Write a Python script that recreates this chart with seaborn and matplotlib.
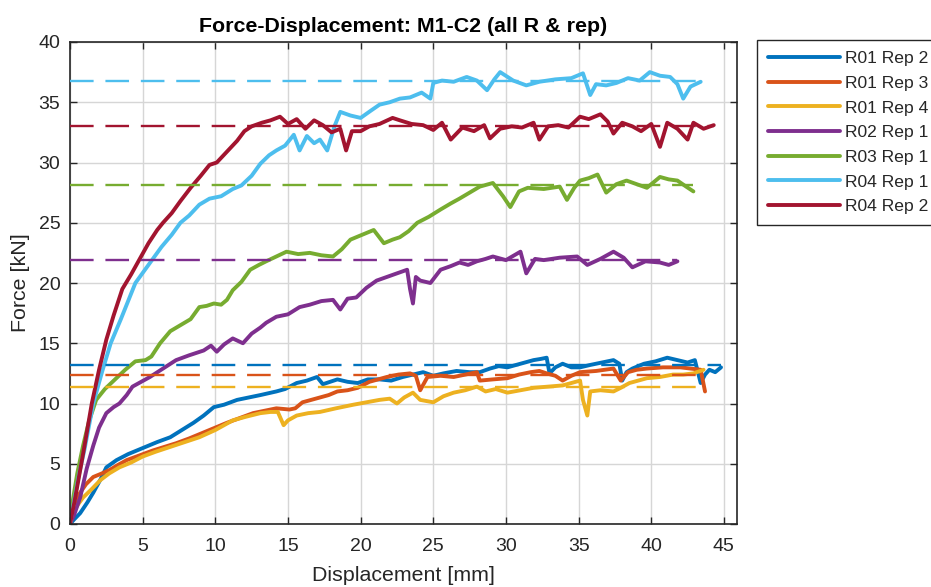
import numpy as np
import pandas as pd
import matplotlib
matplotlib.use("Agg")
import matplotlib.pyplot as plt
import seaborn as sns

# ---------------- data ----------------
names = ["R01 Rep 2", "R01 Rep 3", "R01 Rep 4", "R02 Rep 1", "R03 Rep 1", "R04 Rep 1", "R04 Rep 2"]
colors = ["#0072BD", "#D95319", "#EDB120", "#7E2F8E", "#77AC30", "#4DBEEE", "#A2142F"]

r01_rep2_x = [0, 0.3, 0.7, 1.2, 1.6, 2.1, 2.5, 3.2, 4.0, 5.0, 6.0, 6.9, 7.7, 8.5, 9.2, 9.9, 10.6, 11.5, 12.3, 13.1,
              14.2, 14.8, 15.6, 16.3, 17.0, 17.4, 18.4, 19.1, 19.8, 20.5, 21.3, 22.1, 22.9, 23.6, 24.3, 25.0, 25.7,
              26.6, 27.5, 28.2, 28.9, 29.5, 30.1, 31.0, 31.9, 32.4, 32.8, 33.0, 33.4, 33.9, 34.5, 35.1, 35.8, 36.6,
              37.4, 37.8, 38.0, 38.3, 38.7, 39.5, 40.3, 41.1, 41.8, 42.5, 43.0, 43.4, 43.7, 44.0, 44.4, 44.8]
r01_rep2_y = [0, 0.4, 0.9, 1.8, 2.6, 3.7, 4.7, 5.3, 5.8, 6.3, 6.8, 7.2, 7.8, 8.4, 9.0, 9.7, 9.9, 10.3, 10.5, 10.7,
              11.0, 11.2, 11.7, 11.9, 12.2, 11.6, 12.0, 11.8, 11.7, 12.0, 12.0, 11.9, 12.2, 12.4, 12.6, 12.3, 12.5,
              12.7, 12.6, 12.6, 12.9, 13.1, 13.0, 13.3, 13.6, 13.7, 13.8, 12.5, 13.0, 13.3, 13.0, 13.0, 13.2, 13.4,
              13.6, 13.3, 11.9, 12.6, 12.9, 13.3, 13.5, 13.8, 13.6, 13.4, 13.6, 11.7, 12.4, 12.8, 12.6, 13.0]

r01_rep3_x = [0, 0.2, 0.4, 0.7, 1.1, 1.6, 2.2, 2.75, 3.3, 3.9, 4.8, 5.7, 6.5, 7.3, 8.2, 9.2, 10.0, 10.8, 11.7, 12.6,
              13.4, 14.2, 15.1, 15.5, 16.0, 16.6, 17.2, 17.8, 18.4, 19.1, 19.8, 20.6, 21.2, 21.8, 22.6, 23.4, 23.8,
              24.1, 24.6, 25.5, 26.4, 27.2, 28.0, 28.2, 29.1, 30.1, 30.9, 31.7, 32.3, 32.8, 33.4, 33.9, 34.5, 35.1,
              36.2, 37.4, 37.9, 38.4, 39.0, 39.7, 40.8, 42.0, 42.7, 43.4, 43.7]
r01_rep3_y = [0, 1.2, 2.0, 2.6, 3.3, 3.9, 4.2, 4.5, 4.9, 5.3, 5.7, 6.1, 6.4, 6.7, 7.1, 7.6, 8.0, 8.4, 8.8, 9.2,
              9.4, 9.6, 9.5, 9.6, 10.1, 10.3, 10.5, 10.7, 11.0, 11.1, 11.3, 11.8, 12.0, 12.2, 12.4, 12.5, 12.3,
              11.1, 12.2, 12.3, 12.2, 12.4, 12.6, 11.9, 12.0, 12.1, 12.4, 12.6, 12.7, 12.5, 12.3, 11.9, 12.3, 12.6,
              12.7, 12.9, 11.9, 12.6, 12.8, 12.9, 13.0, 13.0, 12.9, 12.8, 11.0]

r01_rep4_x = [0, 0.3, 0.9, 1.5, 2.1, 2.7, 3.4, 4.2, 5.0, 5.9, 6.9, 7.9, 8.9, 10.0, 11.2, 12.1, 13.1, 13.8, 14.3, 14.7,
              15.0, 15.6, 16.4, 17.2, 18.3, 19.5, 20.4, 21.3, 22.0, 22.5, 23.0, 23.6, 24.1, 25.0, 25.7, 26.4, 27.2,
              28.0, 28.6, 29.3, 30.1, 31.0, 31.9, 32.9, 33.9, 34.5, 35.1, 35.3, 35.6, 35.8, 36.5, 37.4, 37.9, 38.5,
              39.1, 39.7, 40.6, 41.5, 42.2, 42.9, 43.6]
r01_rep4_y = [0, 1.2, 2.2, 2.9, 3.65, 4.2, 4.7, 5.1, 5.6, 6.0, 6.4, 6.8, 7.2, 7.8, 8.6, 8.9, 9.2, 9.3, 9.3, 8.2,
              8.6, 9.0, 9.2, 9.3, 9.6, 9.9, 10.1, 10.3, 10.4, 10.0, 10.5, 10.9, 10.3, 10.1, 10.6, 10.9, 11.1,
              11.4, 11.0, 11.2, 10.9, 11.1, 11.3, 11.4, 11.5, 11.7, 11.9, 10.3, 9.0, 11.0, 11.1, 11.0, 11.3, 11.7,
              11.9, 12.1, 12.2, 12.4, 12.4, 12.5, 12.8]

r02_rep1_x = [0, 0.3, 0.7, 1.15, 1.6, 2.0, 2.5, 3.0, 3.4, 3.9, 4.3, 4.9, 5.5, 6.4, 7.3, 8.2, 9.2, 9.7, 10.1, 10.6,
              11.2, 11.9, 12.5, 13.1, 13.5, 14.2, 15.0, 15.8, 16.5, 17.3, 18.1, 18.6, 19.1, 19.7, 20.4, 21.1, 21.8,
              22.5, 23.2, 23.4, 23.6, 23.8, 24.1, 24.8, 25.5, 26.2, 26.8, 27.4, 28.0, 28.6, 29.1, 30.0, 31.0, 31.4,
              32.0, 32.6, 33.7, 34.9, 35.6, 36.5, 37.4, 38.1, 38.7, 39.6, 40.6, 41.2, 41.8]
r02_rep1_y = [0, 0.8, 2.2, 4.6, 6.5, 8.0, 9.2, 9.7, 10.0, 10.7, 11.4, 11.8, 12.2, 12.9, 13.6, 14.0, 14.4, 14.8, 14.3, 14.9,
              15.4, 15.0, 15.8, 16.3, 16.7, 17.2, 17.4, 18.0, 18.2, 18.5, 18.6, 17.8, 18.7, 18.8, 19.6, 20.2, 20.5,
              20.8, 21.1, 19.5, 18.3, 20.5, 20.2, 20.0, 21.1, 21.4, 21.7, 21.5, 21.8, 22.0, 22.2, 21.9, 22.6, 20.8,
              22.0, 21.9, 22.1, 22.2, 21.5, 22.0, 22.6, 22.1, 21.3, 21.8, 21.7, 21.5, 21.8]

r03_rep1_x = [0, 0.2, 0.5, 0.9, 1.3, 1.8, 2.4, 3.1, 3.8, 4.5, 5.2, 5.6, 6.2, 6.9, 7.6, 8.3, 8.9, 9.4, 9.9, 10.4,
              10.8, 11.2, 11.8, 12.4, 13.0, 13.5, 14.2, 14.9, 15.7, 16.5, 17.3, 18.1, 18.7, 19.3, 20.1, 20.9, 21.6,
              22.2, 22.7, 23.3, 23.9, 24.7, 25.5, 26.2, 26.8, 27.5, 28.2, 29.1, 29.8, 30.3, 30.9, 31.5, 32.6, 33.7,
              34.2, 34.7, 35.1, 35.7, 36.3, 36.9, 37.6, 38.3, 39.0, 39.7, 40.2, 40.6, 41.2, 41.8, 42.4, 42.9]
r03_rep1_y = [0, 2.0, 4.2, 6.5, 8.5, 10.3, 11.2, 12.0, 12.8, 13.5, 13.6, 13.9, 15.0, 16.0, 16.5, 17.0, 18.0, 18.1, 18.3, 18.2,
              18.6, 19.4, 20.1, 21.1, 21.5, 21.8, 22.2, 22.6, 22.4, 22.5, 22.3, 22.2, 22.8, 23.6, 24.0, 24.4, 23.3,
              23.6, 23.8, 24.3, 25.0, 25.5, 26.1, 26.6, 27.0, 27.5, 28.0, 28.3, 27.2, 26.3, 27.6, 27.9, 27.8, 28.0,
              26.9, 27.9, 28.5, 28.7, 29.0, 27.5, 28.2, 28.5, 28.2, 27.9, 28.4, 28.8, 28.6, 28.5, 28.0, 27.6]

r04_rep1_x = [0, 0.3, 0.6, 1.0, 1.6, 2.2, 2.8, 3.5, 4.0, 4.5, 5.1, 5.7, 6.3, 7.0, 7.6, 8.2, 8.9, 9.6, 10.4, 11.2,
              11.8, 12.5, 13.1, 13.7, 14.2, 14.8, 15.4, 15.8, 16.3, 16.8, 17.2, 17.7, 18.2, 18.6, 19.3, 20.0, 20.7,
              21.3, 22.0, 22.7, 23.4, 24.2, 24.8, 25.0, 25.6, 26.4, 27.3, 28.0, 28.7, 29.2, 29.6, 30.5, 31.4, 32.3,
              33.4, 34.5, 35.3, 35.8, 36.2, 36.9, 37.6, 38.4, 39.2, 39.9, 40.6, 41.3, 41.8, 42.2, 42.7, 43.4]
r04_rep1_y = [0, 2.0, 4.0, 6.2, 10.0, 12.6, 15.0, 17.0, 18.5, 20.0, 21.0, 22.0, 23.0, 24.0, 25.0, 25.6, 26.5, 27.0, 27.2, 27.8,
              28.1, 28.9, 29.9, 30.6, 31.0, 31.4, 32.3, 31.0, 32.2, 31.6, 31.9, 31.0, 33.0, 34.2, 33.9, 33.7, 34.3,
              34.8, 35.0, 35.3, 35.4, 35.8, 35.3, 36.6, 36.8, 36.7, 37.1, 36.8, 36.0, 36.9, 37.5, 36.8, 36.4, 36.7,
              36.9, 37.0, 37.4, 35.6, 36.5, 36.4, 36.6, 37.0, 36.8, 37.5, 37.2, 37.1, 36.5, 35.3, 36.3, 36.7]

r04_rep2_x = [0, 0.3, 0.6, 1.0, 1.5, 2.0, 2.5, 3.0, 3.6, 4.2, 4.8, 5.4, 6.0, 6.4, 7.0, 7.6, 8.3, 9.0, 9.6, 10.1,
              10.8, 11.5, 12.0, 12.5, 13.2, 13.8, 14.45, 15.0, 15.6, 16.2, 16.8, 17.4, 18.0, 18.6, 19.0, 19.4, 20.0,
              20.6, 21.3, 22.2, 22.7, 23.5, 24.3, 25.0, 25.6, 26.2, 27.0, 27.8, 28.5, 28.9, 29.6, 30.4, 31.1, 31.9,
              32.3, 32.9, 33.6, 34.3, 35.1, 35.7, 36.5, 37.0, 37.4, 38.0, 38.7, 39.3, 40.0, 40.6, 41.1, 41.8, 42.5,
              42.9, 43.6, 44.3]
r04_rep2_y = [0, 1.8, 3.8, 6.5, 10.0, 12.8, 15.3, 17.3, 19.5, 20.7, 22.0, 23.3, 24.4, 25.0, 25.8, 26.8, 27.9, 28.9, 29.8, 30.0,
              30.9, 31.8, 32.6, 33.0, 33.3, 33.5, 33.8, 33.2, 33.6, 32.8, 33.5, 33.1, 32.5, 32.8, 31.0, 32.6, 32.6,
              33.0, 33.2, 33.7, 33.5, 33.2, 33.1, 32.7, 33.3, 31.9, 32.9, 32.6, 33.1, 32.0, 32.8, 33.0, 32.9, 33.3,
              31.9, 33.0, 33.1, 32.9, 33.8, 33.6, 34.0, 33.4, 32.4, 33.3, 33.0, 32.6, 33.2, 31.3, 33.3, 32.8, 31.9,
              33.3, 32.8, 33.1]

plateau_levels = [13.2, 12.4, 11.4, 21.9, 28.1, 36.8, 33.0]

xs = [r01_rep2_x, r01_rep3_x, r01_rep4_x, r02_rep1_x, r03_rep1_x, r04_rep1_x, r04_rep2_x]
ys = [r01_rep2_y, r01_rep3_y, r01_rep4_y, r02_rep1_y, r03_rep1_y, r04_rep1_y, r04_rep2_y]

df = pd.concat([pd.DataFrame({"Displacement": x, "Force": y, "Series": n})
                for n, x, y in zip(names, xs, ys)], ignore_index=True)

# ---------------- style ----------------
sns.set_theme(style="ticks")
plt.rcParams["font.family"] = ["Liberation Sans", "DejaVu Sans"]
axis_col = "#262626"

fig = plt.figure(figsize=(9.31, 5.87), dpi=100)
ax = fig.add_axes([70 / 931, 1 - 524 / 587, 667 / 931, 482 / 587])

sns.lineplot(data=df, x="Displacement", y="Force", hue="Series", hue_order=names,
             palette=dict(zip(names, colors)), sort=False, estimator=None, units="Series",
             linewidth=2.8, ax=ax, legend=True)

for x, lvl, c in zip(xs, plateau_levels, colors):
    ax.hlines(lvl, 0, max(x), colors=c, linestyles=(0, (10, 5)), linewidth=1.7, zorder=3)

ax.set_xlim(0, 45.9)
ax.set_ylim(0, 40)
ax.set_xticks(np.arange(0, 46, 5))
ax.set_yticks(np.arange(0, 41, 5))
ax.grid(True, color="#d6d6d6", linewidth=1.0)
ax.set_axisbelow(True)
for s in ax.spines.values():
    s.set_color(axis_col)
    s.set_linewidth(1.2)
ax.tick_params(direction="in", length=5, width=1.0, colors=axis_col, labelsize=14,
               top=True, right=True, labelcolor=axis_col)
ax.tick_params(axis="x", pad=10)
ax.tick_params(axis="y", pad=7)

ax.set_xlabel("Displacement [mm]", fontsize=15.4, color=axis_col, labelpad=8)
ax.set_ylabel("Force [kN]", fontsize=15.4, color=axis_col, labelpad=6)
ax.set_title("Force-Displacement: M1-C2 (all R & rep)", fontsize=15.4, fontweight="bold",
             color="black", pad=7)

handles, labels = ax.get_legend_handles_labels()
ax.legend(handles=handles, labels=labels, loc="upper left",
          bbox_to_anchor=(757 / 931, 1 - 40 / 587), bbox_transform=fig.transFigure,
          borderaxespad=0, frameon=True, fancybox=False, edgecolor=axis_col,
          fontsize=12.6, handlelength=4.1, handletextpad=0.3, labelspacing=0.54,
          borderpad=0.62, framealpha=1)
ax.get_legend().get_frame().set_linewidth(1.0)

fig.savefig("out.png", dpi=100)
